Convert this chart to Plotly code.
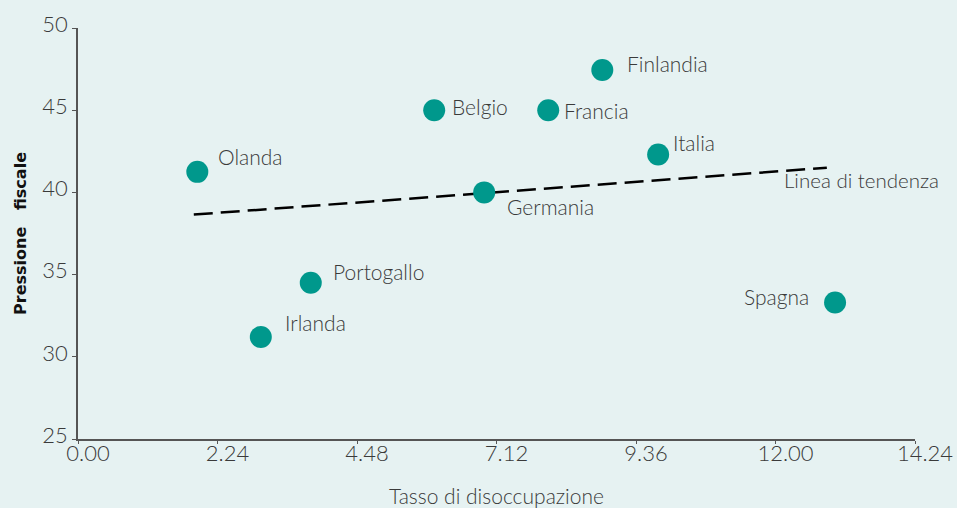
import plotly.graph_objects as go

countries = ["Olanda", "Irlanda", "Portogallo", "Belgio", "Germania", "Francia", "Finlandia", "Italia", "Spagna"]
unemployment = [2.03, 3.11, 3.96, 6.06, 6.91, 8.00, 8.92, 9.87, 12.88]
tax_pressure = [41.25, 31.2, 34.5, 45.0, 40.0, 45.0, 47.45, 42.3, 33.3]

trend_x = [1.97, 12.74]
trend_y = [38.65, 41.5]

x_tick_labels = ["0.00", "2.24", "4.48", "7.12", "9.36", "12.00", "14.24"]
y_ticks = [25, 30, 35, 40, 45, 50]

x_max = 14.24
x_tick_vals = [i * x_max / (len(x_tick_labels) - 1) for i in range(len(x_tick_labels))]

# label offsets (style): xshift, yshift, xanchor
label_style = {
    "Olanda": (19, 15, "left"),
    "Irlanda": (22, 15, "left"),
    "Portogallo": (20, 11, "left"),
    "Belgio": (16, 4, "left"),
    "Germania": (21, -14, "left"),
    "Francia": (14, 0, "left"),
    "Finlandia": (23, 6, "left"),
    "Italia": (13, 12, "left"),
    "Spagna": (-24, 6, "right"),
}

FONT = "Lato"
TEXT = "#3a3a3a"
BG = "#e6f2f2"
LBL = 21

fig = go.Figure()
fig.add_trace(go.Scatter(
    x=trend_x, y=trend_y, mode="lines",
    line=dict(color="black", width=2.5, dash="19px,8px"),
    hoverinfo="skip", showlegend=False,
))
fig.add_trace(go.Scatter(
    x=unemployment, y=tax_pressure, mode="markers",
    marker=dict(size=22, color="#00988c"),
    text=countries, showlegend=False, cliponaxis=False,
))

annotations = []
for c, xv, yv in zip(countries, unemployment, tax_pressure):
    xs, ys, xa = label_style[c]
    annotations.append(dict(
        x=xv, y=yv, text=c, showarrow=False, xanchor=xa, yanchor="middle",
        xshift=xs, yshift=ys, font=dict(family=FONT, size=LBL, color=TEXT, weight=300),
    ))
annotations.append(dict(
    x=trend_x[1], y=trend_y[1], text="Linea di tendenza", showarrow=False,
    xanchor="left", yanchor="middle", xshift=-45, yshift=-12,
    font=dict(family=FONT, size=20.5, color=TEXT, weight=300),
))

fig.update_layout(
    width=957, height=508,
    margin=dict(l=78, r=42, t=28, b=69),
    paper_bgcolor=BG, plot_bgcolor=BG,
    annotations=annotations,
    xaxis=dict(
        range=[0, x_max], tickvals=x_tick_vals, ticktext=x_tick_labels, automargin=False,
        showgrid=False, zeroline=False, showline=True, linecolor="#555555", linewidth=1.5,
        ticks="outside", ticklen=3, tickcolor="#555555", ticklabelshift=10, ticklabelstandoff=-9,
        tickfont=dict(family=FONT, size=22, color=TEXT, weight=300),
        title=dict(text="Tasso di disoccupazione", standoff=27,
                   font=dict(family=FONT, size=21, color=TEXT, weight=300)),
    ),
    yaxis=dict(
        range=[25, 50], tickvals=y_ticks, automargin=False,
        showgrid=False, zeroline=False, showline=True, linecolor="#555555", linewidth=1.5,
        ticks="outside", ticklen=4, tickcolor="#555555", ticklabelshift=-4, ticklabelstandoff=0,
        tickfont=dict(family=FONT, size=22, color=TEXT, weight=300),
        title=dict(text="Pressione&nbsp;&nbsp;&nbsp;fiscale", standoff=12,
                   font=dict(family="DejaVu Sans", size=16, color="#111111", weight="bold")),
    ),
)

fig.write_html("out.html", config={"displayModeBar": False},
               post_script="document.body.style.margin='0';")
